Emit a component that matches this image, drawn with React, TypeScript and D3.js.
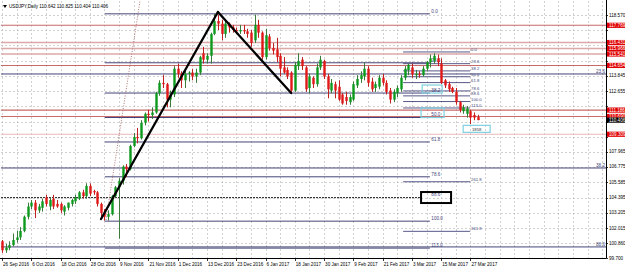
import React from "react";
import * as d3 from "d3";

const W = 625, H = 269;
const PL = 1, PR = 606, PT = 1, PB = 258;

const opens = [101.0,100.3,100.5,100.7,101.1,101.3,101.8,102.9,103.7,104.0,103.4,103.6,104.4,103.7,104.3,103.9,103.9,103.3,103.6,103.9,104.1,104.3,104.8,104.5,105.3,104.9,104.8,103.9,103.2,102.9,103.1,104.5,105.2,105.7,106.8,106.6,108.4,109.1,109.0,110.2,110.9,110.8,111.0,112.5,113.3,113.2,112.0,112.4,114.4,114.0,113.5,114.0,114.1,113.8,114.1,115.6,115.1,115.4,117.1,118.1,117.9,117.1,117.9,117.6,117.4,117.3,117.4,117.3,117.2,116.6,117.8,117.2,115.3,116.9,116.0,115.9,115.4,114.5,114.3,114.1,112.7,114.6,115.1,114.5,112.9,113.7,113.2,114.5,115.0,113.8,112.7,113.2,113.0,112.4,112.2,111.8,112.0,113.1,113.6,113.8,114.4,113.4,112.9,113.0,113.7,113.3,112.7,112.0,112.5,112.8,113.7,114.3,114.5,113.9,114.0,113.9,114.4,114.9,115.0,115.2,114.8,113.5,113.2,112.9,112.6,111.8,111.1,110.9,111.1,110.8,110.642];
const highs = [101.1,100.8,101.0,101.6,101.8,102.1,103.0,104.0,104.2,104.2,103.9,104.3,104.6,104.4,104.6,104.2,104.0,103.8,104.0,104.3,104.6,104.9,105.0,105.5,105.5,105.0,104.9,104.0,103.5,103.4,104.6,105.3,105.9,106.9,107.0,108.5,109.4,109.8,110.4,111.0,111.2,111.4,112.6,113.5,113.9,113.3,112.7,114.6,114.8,114.2,114.3,114.2,114.4,114.4,115.4,116.1,115.6,117.2,118.66,118.6,118.2,118.2,118.0,117.8,117.6,117.8,117.8,117.5,117.4,118.6,118.2,117.3,117.5,117.1,116.4,116.8,115.6,115.3,114.5,114.2,114.9,115.6,115.3,114.6,114.0,113.8,114.8,115.4,115.1,114.0,113.6,113.4,113.5,112.5,112.6,112.4,113.4,113.9,114.2,114.9,114.6,113.7,113.4,113.9,114.0,113.5,112.9,112.8,113.1,113.9,114.6,114.8,114.8,114.3,114.2,114.6,115.0,115.5,115.6,115.5,115.2,113.6,113.4,113.0,112.9,111.9,111.6,111.5,111.2,111.0,110.825];
const lows = [100.1,100.1,100.3,100.6,100.9,101.1,101.7,102.7,103.5,102.8,103.2,103.3,103.7,103.4,103.5,103.6,103.2,103.0,103.4,103.7,103.9,104.2,104.3,104.3,104.5,104.6,103.7,102.9,102.6,102.6,103.0,104.4,101.2,105.4,106.0,106.5,108.3,108.6,108.9,110.0,110.3,110.5,110.9,112.3,112.9,111.4,111.4,112.2,113.7,112.9,112.9,113.4,113.5,113.3,113.9,114.8,114.8,114.8,117.0,117.4,116.6,116.8,117.2,117.2,117.1,117.1,117.1,116.8,116.1,116.4,116.8,115.1,115.1,115.8,115.5,114.9,113.8,114.0,113.6,112.6,112.6,114.3,114.3,112.6,112.5,112.9,113.0,114.3,113.6,112.1,112.5,112.1,111.9,111.6,111.6,111.6,111.9,112.9,113.3,113.5,113.0,112.6,112.6,112.8,113.1,112.4,111.7,111.8,112.2,112.6,113.5,113.9,113.7,113.6,113.7,113.8,114.2,114.5,114.8,114.6,113.2,112.9,112.6,112.5,111.6,111.0,110.9,110.6,110.1,110.4,110.404];
const closes = [100.3,100.5,100.7,101.1,101.3,101.8,102.9,103.7,104.0,103.4,103.7,104.1,103.9,104.2,103.7,103.7,103.4,103.7,104.0,104.2,104.4,104.8,104.5,105.3,104.7,104.8,103.9,103.2,102.9,103.1,104.5,105.2,105.7,106.8,106.6,108.4,109.1,109.0,110.2,110.9,110.8,111.0,112.5,113.3,113.2,112.0,112.4,114.4,114.0,113.5,114.0,114.1,113.8,114.1,115.3,115.1,115.4,117.1,118.1,117.9,117.1,117.9,117.6,117.4,117.3,117.4,117.3,117.1,116.4,117.8,117.2,115.3,117.0,116.0,115.8,115.3,114.4,114.1,113.8,112.7,114.7,115.0,114.6,112.8,113.8,113.2,114.5,115.1,113.8,112.8,113.3,112.7,112.0,111.7,111.9,112.2,113.2,113.6,113.9,114.4,113.3,112.8,113.2,113.7,113.3,112.6,112.0,112.6,112.9,113.7,114.4,114.7,113.95,114.0,113.9,114.4,114.9,115.2,115.4,114.9,113.3,113.1,112.8,112.6,111.8,111.2,111.4,111.3,110.6,110.6,110.406];

const dateLabels = ["26 Sep 2016","6 Oct 2016","18 Oct 2016","28 Oct 2016","9 Nov 2016","21 Nov 2016","1 Dec 2016","13 Dec 2016","23 Dec 2016","6 Jan 2017","18 Jan 2017","30 Jan 2017","9 Feb 2017","21 Feb 2017","3 Mar 2017","15 Mar 2017","27 Mar 2017"];
const priceTicks = [118.570,117.380,116.215,115.035,113.845,112.655,111.465,110.275,109.085,107.965,106.775,105.585,104.395,103.205,102.015,100.860,99.700];

const srPrices = [117.769,116.431,115.966,115.541,114.654,111.186,110.690,109.309];
const srColors = ["#c86a6a","#dca8a8","#dca8a8","#dca8a8","#c86a6a","#c86a6a","#c86a6a","#e8b8b8"];
const currentPrice = 110.406;

const fibALevels = [0,23.6,38.2,50,61.8,78.6,100,113];
const fibASpan = [28.1, 116.9];
const fibAPrices = [118.66, 102.56];

const fibBLevels = [0,23.6,38.2,50,61.8,78.6,88.6,100,113,261.8,361.8];
const fibBSpan = [109.6, 127.9];
const fibBPrices = [115.70, 111.85];

const fullLevels = [113.99, 106.69, 100.56];
const fullLabels = ["23.6","38.2","88.6"];

const trendA = [[27.05,102.73],[59.0,118.80]];
const trendB = [[59.0,118.80],[79.0,112.51]];
const dottedRay = [[28.4,102.65],[37.7,119.66]];
const dashedLevel = 104.39;

const TITLE = "USDJPY,Daily  110.642 110.825 110.404 110.406";

export default function App() {
  const x = d3.scaleLinear().domain([0, 130]).range([2, 477.8]);
  const y = d3.scaleLinear().domain([99.70, 118.57]).range([258, 15]);
  const font = "'Liberation Sans', Arial, sans-serif";
  const fs = 4.6;
  const navy = "#45457a";

  const gridX: number[] = [];
  for (let i = 0; x(i) < PR; i += 4) gridX.push(i);

  const tagYs = [...srPrices, currentPrice].map(p => y(p));
  const visibleTicks = priceTicks.filter(p => tagYs.every(ty => Math.abs(ty - y(p)) > 5.5));

  const fibALine = (lv: number) => fibAPrices[0] - (fibAPrices[0] - fibAPrices[1]) * lv / 100;
  const fibBLine = (lv: number) => fibBPrices[0] - (fibBPrices[0] - fibBPrices[1]) * lv / 100;
  const fmt = (lv: number) => lv.toFixed(1);

  const line = d3.line<number[]>().x(d => x(d[0])).y(d => y(d[1]));

  return (
    <svg width={W} height={H} style={{ position: "absolute", left: 0, top: 0, background: "#fff" }} fontFamily={font}>
      <rect x={0} y={0} width={W} height={H} fill="#fff" />
      <g stroke="#bdbdbd" strokeWidth={0.7} strokeDasharray="2,2">
        {gridX.map(i => <line key={"gx" + i} x1={Math.round(x(i)) + 0.5} x2={Math.round(x(i)) + 0.5} y1={PT} y2={PB} />)}
        {priceTicks.map(p => <line key={"gy" + p} x1={PL} x2={PR} y1={Math.round(y(p)) + 0.5} y2={Math.round(y(p)) + 0.5} />)}
      </g>
      {srPrices.map((p, i) => (
        <line key={"sr" + i} x1={PL} x2={PR} y1={y(p)} y2={y(p)} stroke={srColors[i]} strokeWidth={i >= 1 && i <= 3 ? 1.6 : 1.1} />
      ))}
      {fullLevels.map((p, i) => (
        <g key={"fl" + i}>
          <line x1={PL} x2={PR} y1={y(p)} y2={y(p)} stroke={navy} strokeWidth={1} />
          <text x={PR - 1} y={y(p) - 1.2} fontSize={fs} fill={navy} textAnchor="end">{fullLabels[i]}</text>
        </g>
      ))}
      <line x1={PL} x2={x(114.5)} y1={y(dashedLevel)} y2={y(dashedLevel)} stroke="#222" strokeWidth={1} strokeDasharray="2,1" />
      {fibALevels.map(lv => (
        <g key={"fa" + lv}>
          <line x1={x(fibASpan[0])} x2={x(fibASpan[1])} y1={y(fibALine(lv))} y2={y(fibALine(lv))} stroke={navy} strokeWidth={1} />
          <text x={x(fibASpan[1]) + 1.5} y={y(fibALine(lv)) - 1.2} fontSize={fs} fill={navy}>{fmt(lv)}</text>
        </g>
      ))}
      <text x={x(fibASpan[1]) + 1.5} y={y(fibALine(88.6)) - 1.2} fontSize={fs} fill={navy}>88.6</text>
      {fibBLevels.map(lv => (
        <g key={"fb" + lv}>
          <line x1={x(fibBSpan[0])} x2={x(fibBSpan[1])} y1={y(fibBLine(lv))} y2={y(fibBLine(lv))} stroke={navy} strokeWidth={0.9} />
          <text x={x(fibBSpan[1]) + 1} y={y(fibBLine(lv)) - 1} fontSize={fs - 0.4} fill={navy}>{fmt(lv)}</text>
        </g>
      ))}
      <path d={line(dottedRay) || ""} stroke="#b07878" strokeWidth={1} strokeDasharray="1,1.5" fill="none" />
      {opens.map((o, i) => {
        const c = closes[i];
        const up = c >= o;
        const col = up ? "#0b9a1c" : "#e01818";
        const cx = Math.round(x(i)) + 0.5;
        const top = y(Math.max(o, c)), bot = y(Math.min(o, c));
        return (
          <g key={"c" + i}>
            <line x1={cx} x2={cx} y1={y(highs[i])} y2={y(lows[i])} stroke={up ? "#3a7a3a" : "#c02020"} strokeWidth={1} />
            <rect x={cx - 1.2} y={top} width={2.4} height={Math.max(0.8, bot - top)} fill={col} />
          </g>
        );
      })}
      <path d={line(trendA) || ""} stroke="#000" strokeWidth={2.3} fill="none" strokeLinecap="round" />
      <path d={line(trendB) || ""} stroke="#000" strokeWidth={2.3} fill="none" strokeLinecap="round" />
      <rect x={x(114.8)} y={y(fibALine(38.2)) - 8} width={20} height={8} fill="none" stroke="#7fd0e0" strokeWidth={1.2} />
      <rect x={x(114.5)} y={y(fibALine(50)) - 9.5} width={23} height={9.5} fill="none" stroke="#7fd0e0" strokeWidth={1.2} />
      <rect x={x(126)} y={y(110.0)} width={27} height={7} fill="none" stroke="#7fd0e0" strokeWidth={1.2} />
      <text x={x(126) + 13.5} y={y(110.0) + 5.2} fontSize={fs - 0.3} fill="#333" textAnchor="middle">1858</text>
      <rect x={x(114.5)} y={y(fibALine(88.6)) - 5.5} width={30} height={11} fill="none" stroke="#000" strokeWidth={2} />
      <line x1={PR + 0.5} x2={PR + 0.5} y1={0} y2={PB} stroke="#000" strokeWidth={1} />
      <line x1={0} x2={PR} y1={PB + 0.5} y2={PB + 0.5} stroke="#000" strokeWidth={1} />
      {priceTicks.map(p => (
        <line key={"ptk" + p} x1={PR} x2={PR + 2} y1={Math.round(y(p)) + 0.5} y2={Math.round(y(p)) + 0.5} stroke="#000" strokeWidth={0.8} />
      ))}
      {visibleTicks.map(p => (
        <text key={"pt" + p} x={PR + 3} y={y(p) + 1.6} fontSize={fs} fill="#000">{p.toFixed(3)}</text>
      ))}
      {srPrices.map((p, i) => (
        <g key={"srl" + i}>
          <rect x={PR + 1} y={y(p) - 2.6} width={W - PR - 1} height={5.2} fill="#e00000" />
          <text x={PR + 3} y={y(p) + 1.6} fontSize={fs} fill="#fff">{p.toFixed(3)}</text>
        </g>
      ))}
      <rect x={PR + 1} y={y(currentPrice) - 2.6} width={W - PR - 1} height={5.2} fill="#000" />
      <text x={PR + 3} y={y(currentPrice) + 1.6} fontSize={fs} fill="#fff">{currentPrice.toFixed(3)}</text>
      {dateLabels.map((d, k) => (
        <g key={"dl" + k}>
          <line x1={Math.round(x(k * 8)) + 0.5} x2={Math.round(x(k * 8)) + 0.5} y1={PB} y2={PB + 3} stroke="#000" strokeWidth={0.8} />
          <text x={x(k * 8) + 1} y={265.5} fontSize={fs} fill="#000">{d}</text>
        </g>
      ))}
      <path d="M3,5 L7,5 L5,8 Z" fill="#000" />
      <text x={9} y={8} fontSize={fs} fill="#000">{TITLE}</text>
    </svg>
  );
}
